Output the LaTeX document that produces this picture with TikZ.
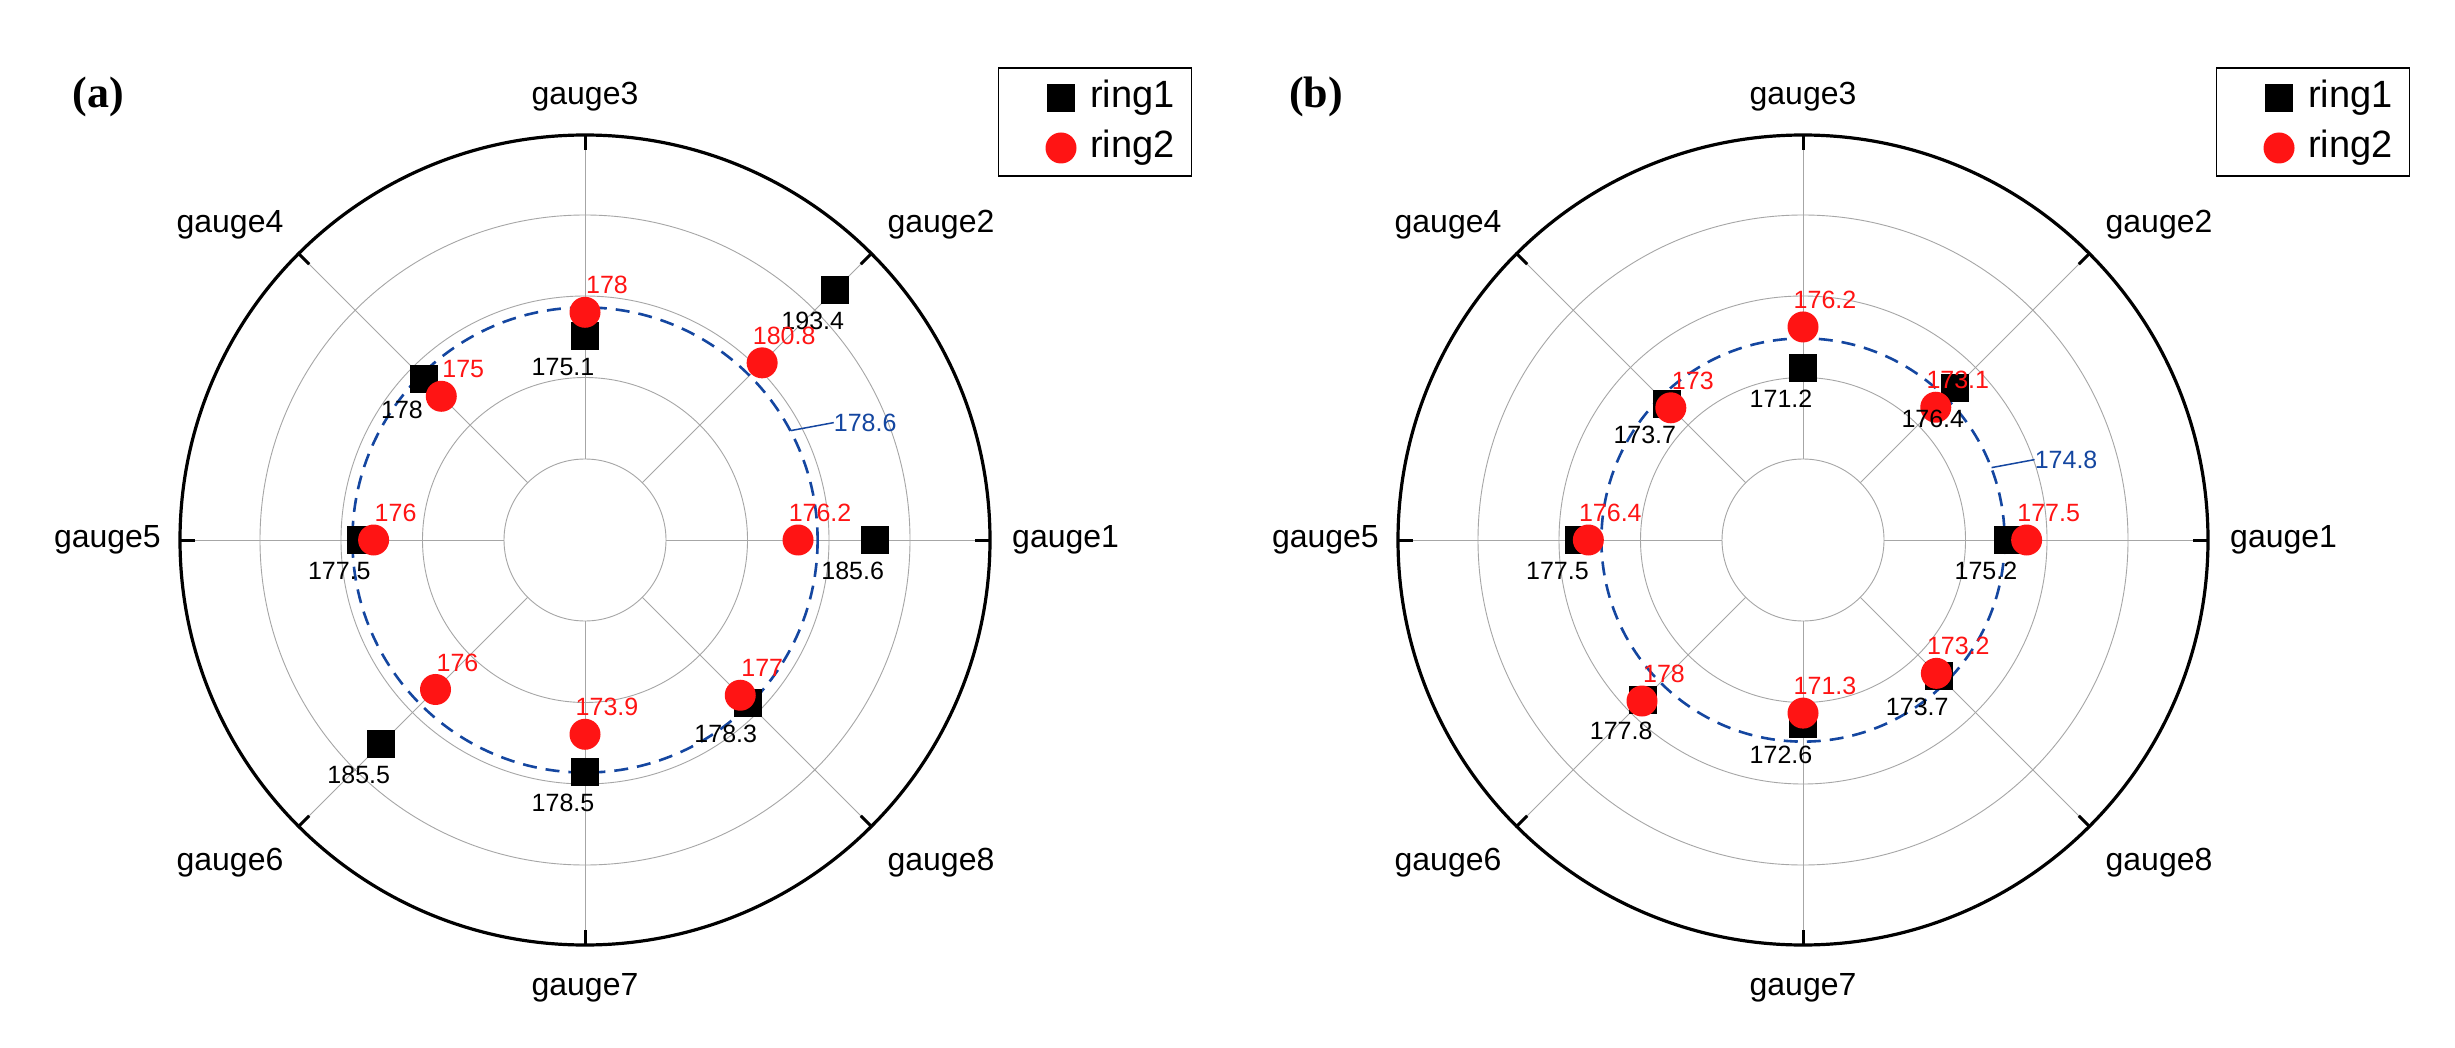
\documentclass[tikz,border=0pt]{standalone}
\usepackage{fontspec}
\setmainfont{Liberation Sans}
\newfontfamily\serifb{Liberation Serif}
\usetikzlibrary{calc}
\definecolor{meanblue}{RGB}{20,70,160}
\definecolor{dotred}{RGB}{255,20,20}
\tikzset{
  grid/.style={draw=gray!70, line width=0.9pt},
  outer/.style={draw=black, line width=3.2pt},
  tick/.style={draw=black, line width=3pt},
  sq/.style={fill=black, draw=none, minimum size=28pt, inner sep=0pt, rectangle},
  dot/.style={fill=dotred, draw=none, minimum size=31pt, inner sep=0pt, circle},
  blk/.style={font=\fontsize{25}{25}\selectfont, text=black, inner sep=0pt},
  red/.style={font=\fontsize{25}{25}\selectfont, text=dotred, inner sep=0pt},
  gl/.style={font=\fontsize{32}{32}\selectfont, inner sep=0pt},
  meanc/.style={draw=meanblue, line width=2.6pt, dash pattern=on 14pt off 9pt},
  lg/.style={font=\fontsize{38}{38}\selectfont, inner sep=0pt, anchor=west}
}
\newcommand\panel[6]{%
  % #1 cx, #2 tag, #3 ring1, #4 ring2, #5 mean, #6 letter
  \coordinate (c#2) at (#1,540);
  \foreach \rr in {162.5,244,325}{\draw[grid] (c#2) circle[radius=\rr];}
  \draw[grid] (c#2) circle[radius=81];
  \foreach \a in {0,45,...,315}{
    \coordinate (in#2\a) at ({#1+81*cos(\a)},{540-81*sin(\a)});
    \coordinate (out#2\a) at ({#1+405*cos(\a)},{540-405*sin(\a)});
    \coordinate (tk#2\a) at ({#1+390*cos(\a)},{540-390*sin(\a)});
    \draw[grid] (in#2\a) -- (out#2\a);
    \draw[tick] (tk#2\a) -- (out#2\a);
  }
  \draw[outer] (c#2) circle[radius=405];
  \pgfmathsetmacro\mr{81+(#5-160)*8.15}
  \draw[meanc] (c#2) circle[radius=\mr];
  \foreach \v [count=\i] in {#3}{
    \pgfmathsetmacro\r{81+(\v-160)*8.15}
    \pgfmathsetmacro\an{(\i-1)*45}
    \node[sq] (s#2\i) at ({#1+\r*cos(\an)},{540-\r*sin(\an)}) {};
  }
  \foreach \v [count=\i] in {#4}{
    \pgfmathsetmacro\r{81+(\v-160)*8.15}
    \pgfmathsetmacro\an{(\i-1)*45}
    \node[dot] (d#2\i) at ({#1+\r*cos(\an)},{540-\r*sin(\an)}) {};
  }
  \foreach \v [count=\i] in {#3}{\node[blk] (ls#2\i) at ($(s#2\i)+(-22,31)$) {\v};}
  \foreach \v [count=\i] in {#4}{\node[red] (ld#2\i) at ($(d#2\i)+(22,-27)$) {\v};}
  \node[gl, anchor=west] (g1#2) at (#1+427,540) {gauge1};
  \node[gl] (g2#2) at (#1+356,225) {gauge2};
  \node[gl] (g3#2) at (#1,97) {gauge3};
  \node[gl] (g4#2) at (#1-355,225) {gauge4};
  \node[gl, anchor=east] (g5#2) at (#1-424,540) {gauge5};
  \node[gl] (g6#2) at (#1-355,863) {gauge6};
  \node[gl] (g7#2) at (#1,988) {gauge7};
  \node[gl] (g8#2) at (#1+356,863) {gauge8};
  \node[font=\serifb\bfseries\fontsize{44}{44}\selectfont, inner sep=0pt] (lab#2) at (#1-487,97) {(#6)};
  % legend
  \node[draw=black, line width=1.5pt, minimum width=193pt, minimum height=108pt, inner sep=0pt] (box#2) at (#1+510,122) {};
  \node[sq] (ls1#2) at (#1+476,98) {};
  \node[dot] (ld1#2) at (#1+476,148) {};
  \node[lg] (lt1#2) at (#1+505,98) {ring1};
  \node[lg] (lt2#2) at (#1+505,148) {ring2};
}
\begin{document}
\begin{tikzpicture}[x=1pt,y=-1pt]
\fill[white] (0,0) rectangle (2455,1048);
\useasboundingbox (0,0) rectangle (2455,1048);
\panel{585}{a}{185.6,193.4,175.1,178,177.5,185.5,178.5,178.3}{176.2,180.8,178,175,176,176,173.9,177}{178.6}{a}
\coordinate (ma) at ({585+233*cos(28)},{540-233*sin(28)});
\coordinate (mta) at ($(ma)+(43,-8)$);
\draw[meanblue, line width=1.5pt] (ma) -- (mta);
\node[font=\fontsize{25}{25}\selectfont, text=meanblue, anchor=west, inner sep=0pt] (meana) at (mta) {178.6};
\panel{1803}{b}{175.2,176.4,171.2,173.7,177.5,177.8,172.6,173.7}{177.5,173.1,176.2,173,176.4,178,171.3,173.2}{174.8}{b}
\coordinate (mb) at ({1803+202*cos(21)},{540-202*sin(21)});
\coordinate (mtb) at ($(mb)+(43,-8)$);
\draw[meanblue, line width=1.5pt] (mb) -- (mtb);
\node[font=\fontsize{25}{25}\selectfont, text=meanblue, anchor=west, inner sep=0pt] (meanb) at (mtb) {174.8};
\end{tikzpicture}
\end{document}
